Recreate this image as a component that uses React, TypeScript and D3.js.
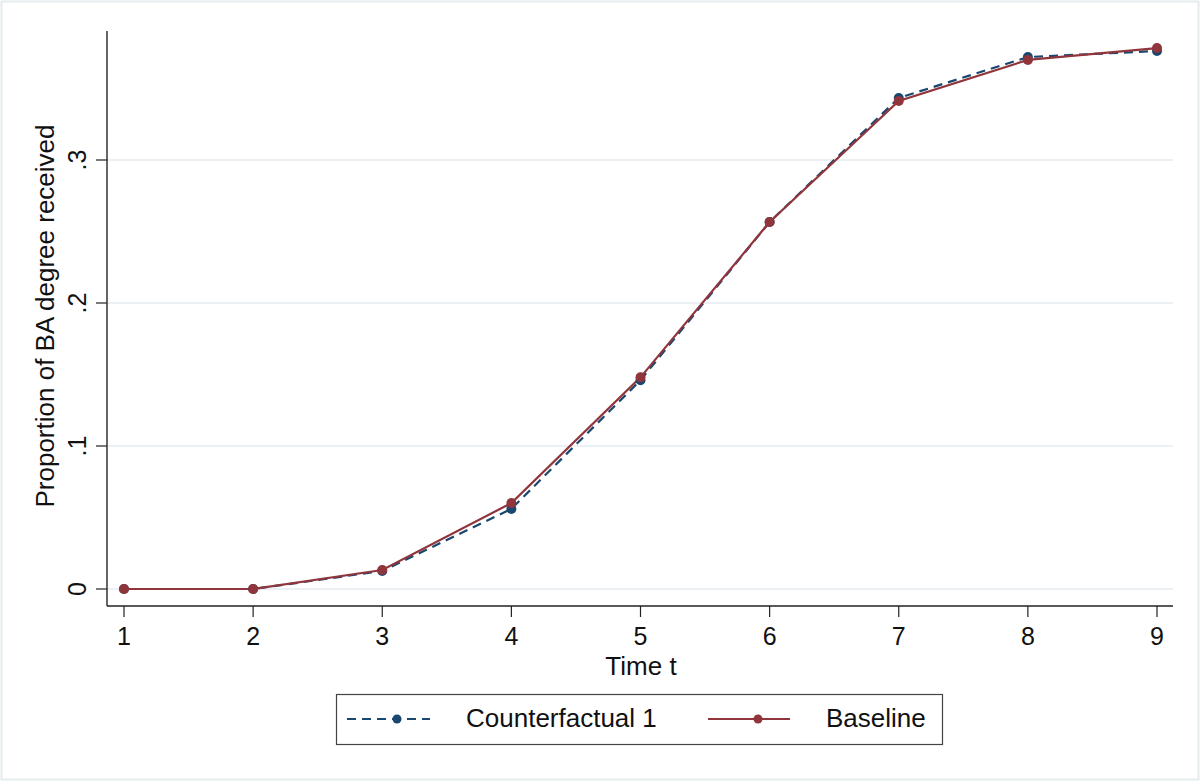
import React from "react";
import * as d3 from "d3";

const times = [1, 2, 3, 4, 5, 6, 7, 8, 9];
const counterfactual1 = [0, 0, 0.0126, 0.056, 0.146, 0.2566, 0.3434, 0.372, 0.3762];
const baseline = [0, 0, 0.0133, 0.0601, 0.148, 0.2566, 0.3413, 0.370, 0.3783];
const yTicks = [0, 0.1, 0.2, 0.3];
const yTickLabels = ["0", ".1", ".2", ".3"];

const W = 1200;
const H = 781;
const FONT = "'Liberation Sans', Arial, sans-serif";
const NAVY = "#1a476f";
const MAROON = "#90353b";

export default function App() {
  const x = d3.scaleLinear().domain([1, 9]).range([124, 1157]);
  const y = d3.scaleLinear().domain([0, 0.3]).range([589, 160]);
  const plotLeft = 107;
  const plotRight = 1173;
  const plotTop = 31;
  const plotBottom = 606;

  const line = d3
    .line<number>()
    .x((_, i) => x(times[i]))
    .y((d) => y(d));

  return (
    <div style={{ position: "absolute", left: 0, top: 0 }}>
      <svg width={W} height={H} style={{ display: "block", fontFamily: FONT }}>
        <rect x={0} y={0} width={W} height={H} fill="#ffffff" />
        <rect x={1.5} y={1.5} width={W - 3} height={H - 3} fill="none" stroke="#e4ecee" strokeWidth={2} />

        {/* horizontal grid */}
        {yTicks.map((t) => (
          <line key={"g" + t} x1={plotLeft} x2={plotRight} y1={y(t)} y2={y(t)} stroke="#eaf0f3" strokeWidth={2} />
        ))}

        {/* axes */}
        <line x1={plotLeft} x2={plotLeft} y1={plotTop} y2={plotBottom} stroke="#333" strokeWidth={1.5} />
        <line x1={plotLeft} x2={plotRight} y1={plotBottom} y2={plotBottom} stroke="#222" strokeWidth={1.5} />

        {yTicks.map((t, i) => (
          <g key={"yt" + t}>
            <line x1={plotLeft - 11} x2={plotLeft} y1={y(t)} y2={y(t)} stroke="#222" strokeWidth={1.2} />
            <text
              transform={`translate(${86},${y(t)}) rotate(-90)`}
              textAnchor="middle"
              fontSize={25}
              fill="#111"
            >
              {yTickLabels[i]}
            </text>
          </g>
        ))}

        {times.map((t) => (
          <g key={"xt" + t}>
            <line x1={x(t)} x2={x(t)} y1={plotBottom} y2={plotBottom + 11} stroke="#222" strokeWidth={1.2} />
            <text x={x(t)} y={plotBottom + 39} textAnchor="middle" fontSize={25} fill="#111">
              {t}
            </text>
          </g>
        ))}

        <text x={641} y={675} textAnchor="middle" fontSize={26} fill="#111">
          Time t
        </text>
        <text
          transform={`translate(${54},${316}) rotate(-90)`}
          textAnchor="middle"
          fontSize={26}
          fill="#111"
        >
          Proportion of BA degree received
        </text>

        {/* series */}
        <path d={line(counterfactual1) ?? ""} fill="none" stroke={NAVY} strokeWidth={2.2} strokeDasharray="9,6" />
        <path d={line(baseline) ?? ""} fill="none" stroke={MAROON} strokeWidth={2.2} />
        {counterfactual1.map((v, i) => (
          <circle key={"c" + i} cx={x(times[i])} cy={y(v)} r={5} fill={NAVY} />
        ))}
        {baseline.map((v, i) => (
          <circle key={"b" + i} cx={x(times[i])} cy={y(v)} r={5} fill={MAROON} />
        ))}

        {/* legend */}
        <rect x={336.5} y={694.5} width={606} height={50} fill="#fff" stroke="#444" strokeWidth={1.2} />
        <line x1={347} x2={430} y1={719} y2={719} stroke={NAVY} strokeWidth={2.2} strokeDasharray="9,6" />
        <circle cx={397} cy={719} r={4.5} fill={NAVY} />
        <text x={466} y={727} fontSize={26} fill="#111">
          Counterfactual 1
        </text>
        <line x1={708} x2={790} y1={719} y2={719} stroke={MAROON} strokeWidth={2.2} />
        <circle cx={758} cy={719} r={4.5} fill={MAROON} />
        <text x={826} y={727} fontSize={26} fill="#111">
          Baseline
        </text>
      </svg>
    </div>
  );
}
